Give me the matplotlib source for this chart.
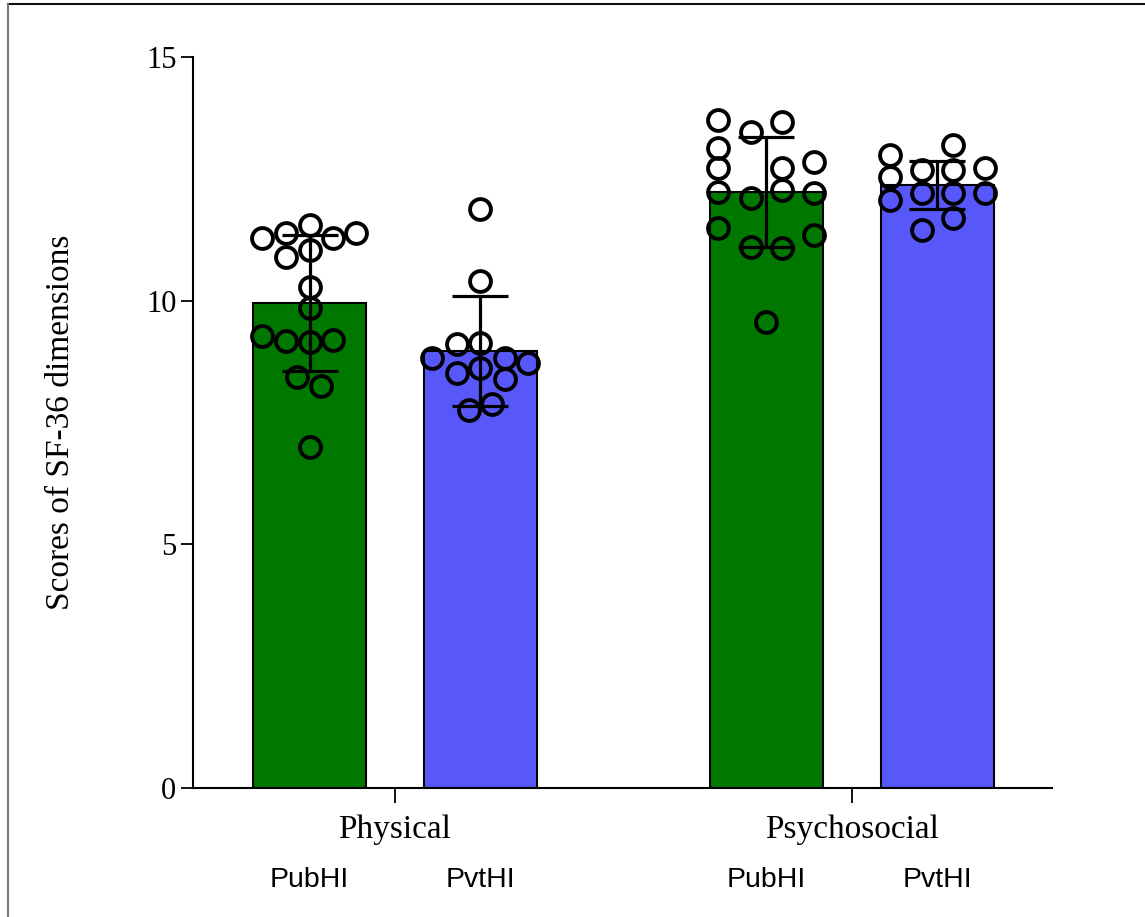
import numpy as np
import matplotlib
matplotlib.use('Agg')
import matplotlib.pyplot as plt
from matplotlib.lines import Line2D
import matplotlib.transforms as mtransforms

# Groups and series
groups = ['Physical', 'Psychosocial']
series = ['PubHI', 'PvtHI']

# Bar means and SD
means = {'PubHI': [9.95, 12.23], 'PvtHI': [8.97, 12.37]}
sds = {'PubHI': [1.40, 1.12], 'PvtHI': [1.13, 0.49]}

# Individual scores
phys_pub = [11.28, 11.38, 11.55, 11.29, 11.38, 10.90, 11.05, 10.29, 9.84,
            9.28, 9.18, 9.16, 9.19, 8.44, 8.24, 6.99]
phys_pvt = [11.88, 10.41, 9.11, 9.13, 8.82, 8.82, 8.72, 8.51, 8.61, 8.39,
            7.76, 7.89]
psy_pub = [13.71, 13.47, 13.67, 13.13, 12.72, 12.72, 12.85, 12.24, 12.10,
           12.27, 12.20, 11.49, 11.35, 11.11, 11.08, 9.57]
psy_pvt = [12.99, 13.20, 12.54, 12.68, 12.68, 12.72, 12.07, 12.20, 12.20,
           12.20, 11.45, 11.69]

# horizontal spread of the dots, as a fraction of the bar width
phys_pub_dx = [-0.425, -0.21, 0, 0.205, 0.415, -0.21, 0, 0, 0, -0.425, -0.21,
               0, 0.21, -0.115, 0.10, 0]
phys_pvt_dx = [0, 0, -0.21, 0, -0.425, 0.22, 0.425, -0.21, 0, 0.22, -0.105,
               0.10]
psy_pub_dx = [-0.425, -0.14, 0.14, -0.425, -0.425, 0.14, 0.42, -0.425, -0.14,
              0.14, 0.42, -0.425, 0.42, -0.14, 0.14, 0]
psy_pvt_dx = [-0.42, 0.14, -0.42, -0.14, 0.14, 0.42, -0.42, -0.14, 0.14,
              0.42, -0.14, 0.14]

points = {('PubHI', 0): (phys_pub, phys_pub_dx), ('PvtHI', 0): (phys_pvt, phys_pvt_dx),
          ('PubHI', 1): (psy_pub, psy_pub_dx), ('PvtHI', 1): (psy_pvt, psy_pvt_dx)}

colors = {'PubHI': '#007800', 'PvtHI': '#5858fa'}

group_x = np.array([0.0, 1.0])
offset = {'PubHI': -0.187, 'PvtHI': 0.187}
bar_w = 0.247

fig = plt.figure(figsize=(11.45, 9.17), dpi=100)
ax = fig.add_axes([0.1686, 0.1407, 0.7502, 0.7971])

for s in series:
    xs = group_x + offset[s]
    ax.bar(xs, means[s], width=bar_w, color=colors[s], edgecolor='black',
           linewidth=1.5, zorder=2)
    ax.errorbar(xs, means[s], yerr=sds[s], fmt='none', ecolor='black',
                elinewidth=2.3, capsize=20, capthick=2.3, zorder=3)
    for gi in range(len(groups)):
        vals, dx = points[(s, gi)]
        px = xs[gi] + np.array(dx) * bar_w
        ax.plot(px, vals, 'o', markersize=15, markerfacecolor='none',
                markeredgecolor='black', markeredgewidth=2.8, zorder=4,
                clip_on=False)

ax.set_xlim(-0.442, 1.438)
ax.set_ylim(0, 15)
ax.set_yticks([0, 5, 10, 15])
ax.set_xticks(group_x)
ax.set_xticklabels(groups, fontfamily='Liberation Serif', fontsize=24)
for lab in ax.get_yticklabels():
    lab.set_fontfamily('Liberation Serif')
    lab.set_fontsize(22)

ax.spines['top'].set_visible(False)
ax.spines['right'].set_visible(False)
ax.spines['left'].set_linewidth(1.5)
ax.spines['bottom'].set_linewidth(1.5)
ax.tick_params(axis='y', length=9, width=1.3, pad=3)
ax.tick_params(axis='x', length=11, width=1.3, pad=8)

ax.set_ylabel('Scores of SF-36 dimensions', fontfamily='Liberation Serif',
              fontsize=24, labelpad=50)

# series names under each bar
trans = mtransforms.blended_transform_factory(ax.transData, ax.transAxes)
for s in series:
    for gx in group_x:
        ax.text(gx + offset[s], -0.126, s, transform=trans, ha='center',
                va='center', fontfamily='Liberation Sans', fontsize=20.5)

# frame round the picture
fig.add_artist(Line2D([0.007, 1.0], [0.9956, 0.9956], color='#111111', lw=1.5))
fig.add_artist(Line2D([0.007, 0.007], [0.0, 0.9956], color='#777777', lw=1.5))

fig.savefig('out.png', dpi=100)
